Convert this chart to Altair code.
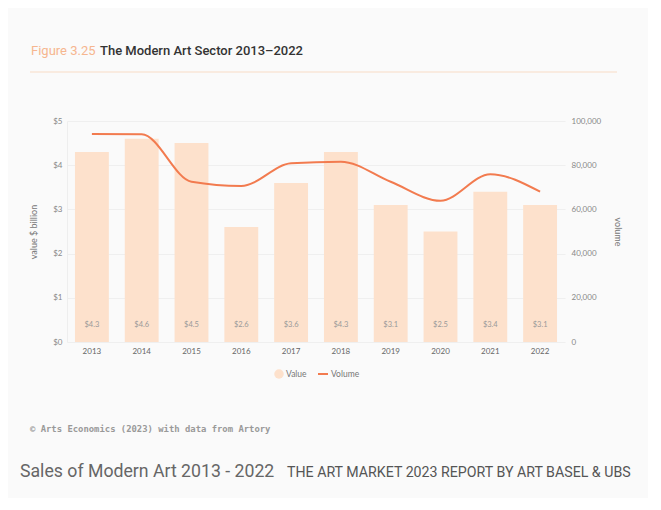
import altair as alt
import pandas as pd

years = ["2013", "2014", "2015", "2016", "2017", "2018", "2019", "2020", "2021", "2022"]
values = [4.3, 4.6, 4.5, 2.6, 3.6, 4.3, 3.1, 2.5, 3.4, 3.1]
volumes = [94100, 94000, 72500, 70600, 80900, 81600, 72500, 63900, 75900, 68000]
value_labels = ["$4.3", "$4.6", "$4.5", "$2.6", "$3.6", "$4.3", "$3.1", "$2.5", "$3.4", "$3.1"]

df = pd.DataFrame({"year": years, "value": values, "volume": volumes, "label": value_labels})

BAR = "#fde1cc"
LINE = "#f27b4f"
FONT = "Lato"

W, H = 498, 221

xenc = alt.X("year:N", sort=years,
             scale=alt.Scale(paddingInner=0.32, paddingOuter=0.16),
             axis=alt.Axis(title=None, labelAngle=0, ticks=False, domain=False,
                           labelPadding=5, labelFontSize=8, labelColor="#666", labelFont=FONT))

base = alt.Chart(df)

bars = base.mark_bar(color=BAR).encode(
    x=xenc,
    y=alt.Y("value:Q", scale=alt.Scale(domain=[0, 5]),
            axis=alt.Axis(title="value $ billion", values=[0, 1, 2, 3, 4, 5],
                          labelExpr="'$' + datum.value", ticks=False,
                          domain=True, domainColor="#eeeeee",
                          gridColor="#efefef", labelPadding=5,
                          labelFontSize=8, labelColor="#888", labelFont=FONT,
                          titleFontSize=9, titleFontWeight="normal", titleColor="#777",
                          titleFont=FONT, titlePadding=14)),
)

bar_text = base.mark_text(fontSize=7.5, color="#999", font=FONT).encode(
    x=alt.X("year:N", sort=years),
    y=alt.value(204),
    text="label:N",
)

line = base.mark_line(color=LINE, strokeWidth=2, interpolate="monotone").encode(
    x=alt.X("year:N", sort=years),
    y=alt.Y("volume:Q", scale=alt.Scale(domain=[0, 100000]),
            axis=alt.Axis(title="volume", orient="right",
                          values=[0, 20000, 40000, 60000, 80000, 100000],
                          labelExpr="format(datum.value, ',')",
                          grid=False, ticks=False, domain=False,
                          labelPadding=6, labelFontSize=8, labelColor="#888", labelFont=FONT,
                          titleFontSize=9, titleFontWeight="normal", titleColor="#777",
                          titleFont=FONT, titlePadding=12)),
)

one = alt.Data(values=[{}])


def txt(s, x, y, size, color, font=FONT, weight="normal", align="left"):
    return alt.Chart(one).mark_text(align=align, baseline="middle", fontSize=size, color=color,
                                    font=font, fontWeight=weight).encode(
        x=alt.value(x), y=alt.value(y), text=alt.value(s))


title1 = txt("Figure 3.25", -36, -70, 13, "#f6b68f", font="Roboto")
title2 = txt("The Modern Art Sector 2013\u20132022", 33, -70, 13, "#333333", font="Roboto", weight=500)
hrule = alt.Chart(one).mark_rule(color="#f8dcc6", strokeWidth=1).encode(
    x=alt.value(-37), x2=alt.value(550), y=alt.value(-49))

leg_dot = alt.Chart(one).mark_point(filled=True, size=90, color=BAR, opacity=1).encode(
    x=alt.value(212), y=alt.value(253))
leg_rule = alt.Chart(one).mark_rule(color=LINE, strokeWidth=2).encode(
    x=alt.value(251), x2=alt.value(261), y=alt.value(253))
leg_t1 = txt("Value", 219, 253, 8.5, "#777")
leg_t2 = txt("Volume", 264, 253, 8.5, "#777")

credit = txt("\u00a9 Arts Economics (2023) with data from Artory", -37, 308, 8.9, "#999",
             font="DejaVu Sans Mono", weight="bold")
sales = txt("Sales of Modern Art 2013 - 2022", -47, 351, 17.7, "#666", font="Roboto")
report = txt("THE ART MARKET 2023 REPORT BY ART BASEL & UBS", 220, 352, 14.2, "#555", font="Roboto")

chart = alt.layer(
    bars, bar_text, line,
    title1, title2, hrule, leg_dot, leg_rule, leg_t1, leg_t2, credit, sales, report,
).resolve_scale(y="independent").properties(
    width=W, height=H,
    autosize=alt.AutoSizeParams(type="none"),
    padding={"left": 59, "top": 113, "right": 83, "bottom": 156},
    background="#fafafa",
).configure_view(stroke=None)

chart.save("out.html", embed_options={"renderer": "svg", "actions": False})
